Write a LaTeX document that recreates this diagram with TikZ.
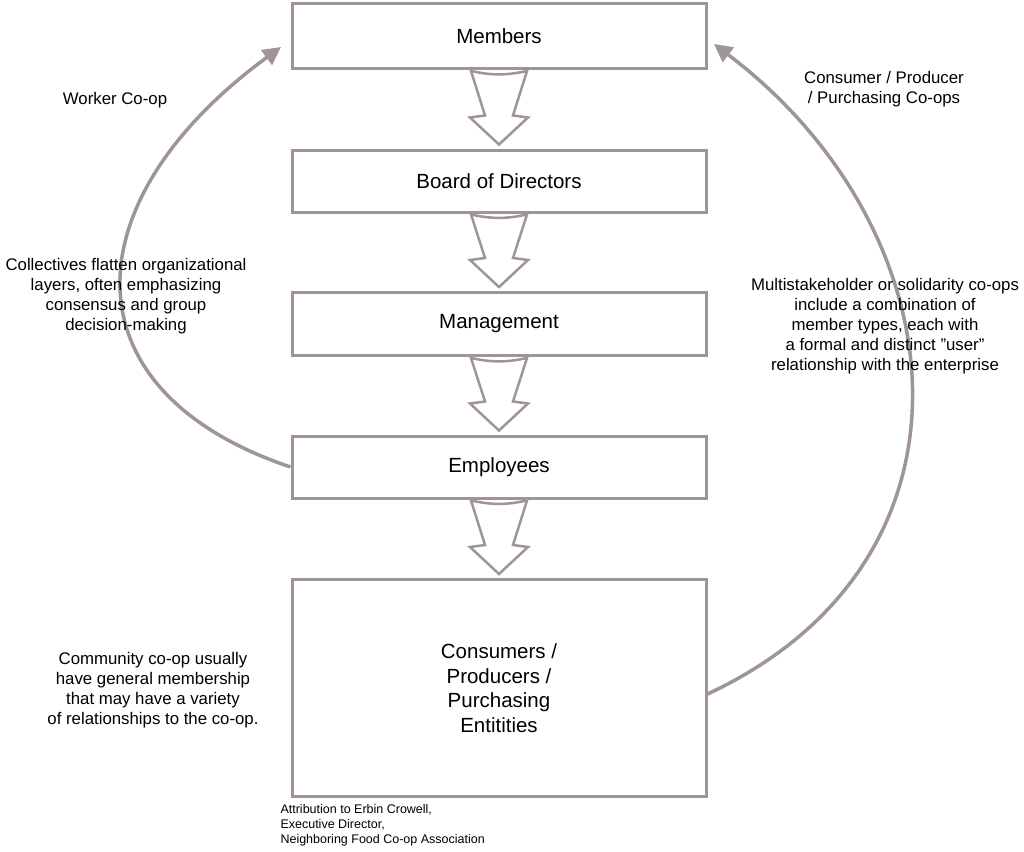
\documentclass[tikz,border=0pt]{standalone}
\usepackage{fontspec}
\setmainfont{Liberation Sans}
\usetikzlibrary{arrows.meta,calc}
\definecolor{lc}{RGB}{160,148,156}
\begin{document}
\begin{tikzpicture}[x=1pt,y=-1pt,
  box/.style={draw=lc,line width=3pt,fill=white,minimum width=414pt,inner sep=0pt,font=\fontsize{20.5}{24.5}\selectfont,align=center},
  side/.style={font=\fontsize{16.8}{20}\selectfont,align=center},
  curve/.style={draw=lc,line width=3.5pt,-{Triangle[length=18pt,width=18pt]}}]
\useasboundingbox (0,0) rectangle (1024,851);
\node[box,minimum height=65pt] (m) at (499,36) {Members};
\node[box,minimum height=62pt] (b) at (499,181) {Board of Directors};
\node[box,minimum height=63pt] (g) at (499,324) {Management};
\node[box,minimum height=62pt] (e) at (499,467) {Employees};
\node[box,minimum height=217pt] (c) at (499,688) {Consumers /\\Producers /\\Purchasing\\Entitities};
\foreach \a/\b in {m/b,b/g,g/e,e/c}{
  \path (\a.south) ++(0,1) coordinate (t) (\b.north) coordinate (h);
  \draw[lc,line width=2.5pt,line join=miter,fill=white]
   ($(t)+(-28,0)$) to[bend right=12] ($(t)+(28,0)$) -- ($(h)+(14,-33)$) -- ($(h)+(29,-31)$) -- ($(h)+(0,-4)$) -- ($(h)+(-29,-31)$) -- ($(h)+(-14,-33)$) -- cycle;
}
\coordinate (lt) at (281,47);
\coordinate (rt) at (714,44);
\draw[curve] (e.west) .. controls (62,390) and (72,200) .. (lt);
\draw[curve] ($(c.east)+(0,6)$) .. controls (995,560) and (960,230) .. (rt);
\node[side] (t1) at (115,100) {Worker Co-op};
\node[side] (t2) at (884,89) {Consumer / Producer\\/ Purchasing Co-ops};
\node[side] (t3) at (126,296) {Collectives flatten organizational\\layers, often emphasizing\\consensus and group\\decision-making};
\node[side] (t4) at (885,326) {Multistakeholder or solidarity co-ops\\include a combination of\\member types, each with\\a formal and distinct \symbol{34}user\symbol{34}\\relationship with the enterprise};
\node[side] (t5) at (153,690) {Community co-op usually\\have general membership\\that may have a variety\\of relationships to the co-op.};
\node[font=\fontsize{12.5}{15}\selectfont,align=left,anchor=north west] (t6) at (277,801) {Attribution to Erbin Crowell,\\Executive Director,\\Neighboring Food Co-op Association};
\end{tikzpicture}
\end{document}
